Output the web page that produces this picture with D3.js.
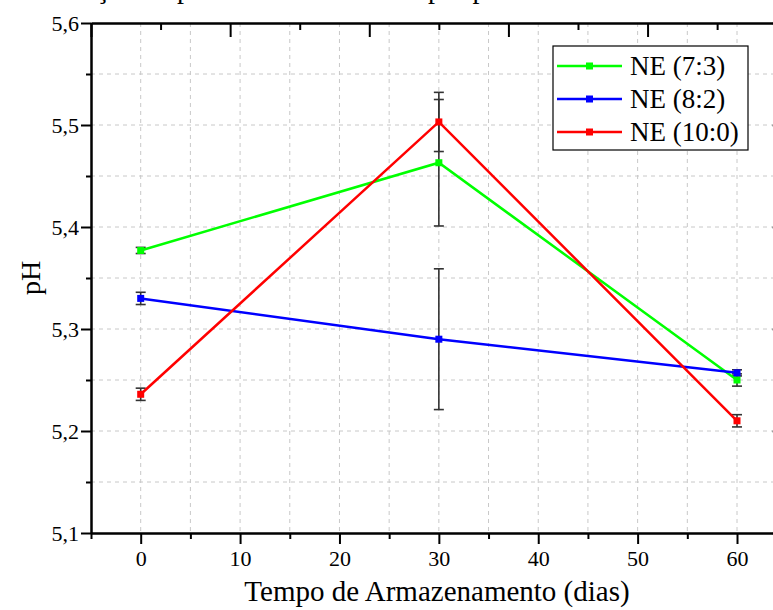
<!DOCTYPE html>
<html>
<head>
<meta charset="utf-8">
<script src="https://cdn.jsdelivr.net/npm/d3@7"></script>
<style>
  html, body { margin: 0; padding: 0; background: #fff; }
  svg { display: block; }
  svg text { font-family: "Liberation Serif", "Times New Roman", serif; fill: #000; }
</style>
</head>
<body>
<svg id="chart" width="773" height="610"></svg>
<script>
// Storage time (days) and pH of each nanoemulsion, with standard deviations
const days = [0, 30, 60];
const seriesNames = ["NE (7:3)", "NE (8:2)", "NE (10:0)"];
const ph73 = [5.377, 5.463, 5.250];
const sd73 = [0.003, 0.062, 0.006];
const ph82 = [5.330, 5.290, 5.257];
const sd82 = [0.006, 0.069, 0.003];
const ph100 = [5.236, 5.503, 5.210];
const sd100 = [0.006, 0.029, 0.006];
const xTicks = [0, 10, 20, 30, 40, 50, 60];
const yTicks = [5.1, 5.2, 5.3, 5.4, 5.5, 5.6];
const colors = ["#00ff00", "#0000ff", "#ff0000"];

const series = [
  { name: seriesNames[0], values: ph73, sd: sd73, color: colors[0] },
  { name: seriesNames[1], values: ph82, sd: sd82, color: colors[1] },
  { name: seriesNames[2], values: ph100, sd: sd100, color: colors[2] }
];

const svg = d3.select("#chart");
const plotL = 91, plotR = 786.7, plotT = 23, plotB = 533;

const x = d3.scaleLinear().domain([-5, 65]).range([plotL, plotR]);
const y = d3.scaleLinear().domain([5.1, 5.6]).range([plotB, plotT]);
// secondary top axis with its own default 0–10 range (unlabelled)
const xTop = d3.scaleLinear().domain([0, 10]).range([plotL, plotR]);

const fmt = v => d3.format(".1f")(v).replace(".", ",");

// Title (runs off the top edge)
svg.append("text")
  .attr("x", 437).attr("y", -2)
  .attr("text-anchor", "middle")
  .attr("font-size", 28)
  .text("Variação do pH das nanoemulsões por período de armazenamento (p/p)");

// Dashed grid at every major and minor step
const grid = svg.append("g").attr("stroke", "#c8c8c8").attr("stroke-width", 1)
  .attr("stroke-dasharray", "4,4");
d3.range(0, 66, 5).forEach(d => {
  grid.append("line").attr("x1", x(d)).attr("x2", x(d)).attr("y1", plotT).attr("y2", plotB);
});
d3.range(1, 10).map(i => 5.1 + i * 0.05).forEach(v => {
  grid.append("line").attr("x1", plotL).attr("x2", plotR).attr("y1", y(v)).attr("y2", y(v));
});

// Axes
const axisW = 2;
// bottom
svg.append("g").attr("transform", `translate(0,${plotB})`)
  .call(d3.axisBottom(x).tickValues(xTicks).tickSize(11).tickSizeOuter(0).tickPadding(6).tickFormat(d3.format("d")));
svg.append("g").attr("transform", `translate(0,${plotB})`)
  .call(d3.axisBottom(x).tickValues(d3.range(-5, 66, 10)).tickSize(6).tickSizeOuter(0).tickFormat(""));
// left
svg.append("g").attr("transform", `translate(${plotL},0)`)
  .call(d3.axisLeft(y).tickValues(yTicks).tickSize(10).tickSizeOuter(0).tickPadding(2).tickFormat(fmt));
svg.append("g").attr("transform", `translate(${plotL},0)`)
  .call(d3.axisLeft(y).tickValues([5.15, 5.25, 5.35, 5.45, 5.55]).tickSize(5).tickSizeOuter(0).tickFormat(""));
// top (inward ticks)
svg.append("g").attr("transform", `translate(0,${plotT})`)
  .call(d3.axisTop(xTop).tickValues([0, 2, 4, 6, 8, 10]).tickSize(-14).tickSizeOuter(0).tickFormat(""));
svg.append("g").attr("transform", `translate(0,${plotT})`)
  .call(d3.axisTop(xTop).tickValues([1, 3, 5, 7, 9]).tickSize(-7).tickSizeOuter(0).tickFormat(""));
// right (inward ticks)
svg.append("g").attr("transform", `translate(${plotR},0)`)
  .call(d3.axisRight(y).tickValues(yTicks).tickSize(-14).tickSizeOuter(0).tickFormat(""));

svg.selectAll(".domain").attr("stroke", "#000").attr("stroke-width", axisW);
svg.selectAll(".tick line").attr("stroke", "#000").attr("stroke-width", axisW);
svg.selectAll("g").attr("font-family", null);
svg.selectAll(".tick text").attr("fill", "#000").attr("font-size", 22);

// Axis titles
svg.append("text")
  .attr("x", 437).attr("y", 601)
  .attr("text-anchor", "middle").attr("font-size", 29)
  .text("Tempo de Armazenamento (dias)");
svg.append("text")
  .attr("transform", `translate(40,${(plotT + plotB) / 2}) rotate(-90)`)
  .attr("text-anchor", "middle").attr("font-size", 28)
  .text("pH");

// Error bars
const capW = 5;
const eb = svg.append("g").attr("stroke", "#333").attr("stroke-width", 1.6);
series.forEach(s => {
  days.forEach((d, i) => {
    const hi = y(s.values[i] + s.sd[i]), lo = y(s.values[i] - s.sd[i]), cx = x(d);
    eb.append("line").attr("x1", cx).attr("x2", cx).attr("y1", hi).attr("y2", lo);
    eb.append("line").attr("x1", cx - capW).attr("x2", cx + capW).attr("y1", hi).attr("y2", hi);
    eb.append("line").attr("x1", cx - capW).attr("x2", cx + capW).attr("y1", lo).attr("y2", lo);
  });
});

// Lines and square markers
const line = d3.line().x((d, i) => x(days[i])).y(d => y(d));
const mk = 7;
series.forEach(s => {
  svg.append("path").datum(s.values)
    .attr("d", line).attr("fill", "none")
    .attr("stroke", s.color).attr("stroke-width", 2.5);
  svg.append("g").selectAll("rect").data(s.values).join("rect")
    .attr("x", (d, i) => x(days[i]) - mk / 2)
    .attr("y", d => y(d) - mk / 2)
    .attr("width", mk).attr("height", mk)
    .attr("fill", s.color);
});

// Legend
const lg = svg.append("g");
lg.append("rect").attr("x", 553).attr("y", 46).attr("width", 195).attr("height", 104)
  .attr("fill", "#fff").attr("stroke", "#000").attr("stroke-width", 1.2);
series.forEach((s, i) => {
  const ry = 66 + i * 33;
  lg.append("line").attr("x1", 557).attr("x2", 622).attr("y1", ry).attr("y2", ry)
    .attr("stroke", s.color).attr("stroke-width", 2.5);
  lg.append("rect").attr("x", 589.5 - mk / 2).attr("y", ry - mk / 2)
    .attr("width", mk).attr("height", mk).attr("fill", s.color);
  lg.append("text").attr("x", 630).attr("y", ry + 9)
    .attr("font-size", 27).text(s.name);
});
</script>
</body>
</html>
